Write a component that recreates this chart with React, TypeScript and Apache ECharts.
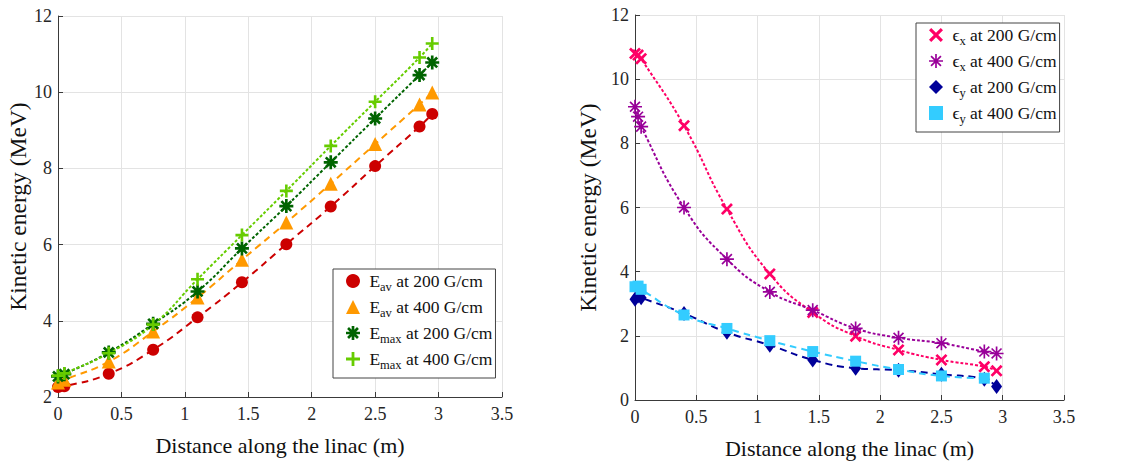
import React, { useEffect, useRef } from 'react';
import * as echarts from 'echarts';

// ---- data ----
const distLeft = [0, 0.05, 0.4, 0.75, 1.1, 1.45, 1.8, 2.15, 2.5, 2.85, 2.95];
const eav200 = [2.26, 2.28, 2.61, 3.24, 4.09, 5.01, 6.01, 7.0, 8.06, 9.1, 9.43];
const eav400 = [2.38, 2.45, 2.93, 3.72, 4.61, 5.6, 6.58, 7.6, 8.64, 9.68, 9.99];
const emax200 = [2.54, 2.6, 3.17, 3.92, 4.77, 5.9, 7.01, 8.16, 9.31, 10.45, 10.78];
const emax400 = [2.56, 2.62, 3.15, 3.9, 5.09, 6.25, 7.41, 8.59, 9.75, 10.91, 11.28];

const distRight = [0, 0.025, 0.05, 0.4, 0.75, 1.1, 1.45, 1.8, 2.15, 2.5, 2.85, 2.95];
const ex200 = [10.8, 10.75, 10.64, 8.55, 5.95, 3.93, 2.73, 1.99, 1.56, 1.25, 1.04, 0.91];
const ex400 = [9.14, 8.83, 8.52, 6.0, 4.39, 3.37, 2.8, 2.23, 1.94, 1.77, 1.51, 1.45];
const ey200 = [3.14, 3.24, 3.19, 2.7, 2.11, 1.71, 1.25, 0.99, 0.93, 0.8, 0.65, 0.42];
const ey400 = [3.53, 3.55, 3.45, 2.65, 2.23, 1.85, 1.51, 1.21, 0.95, 0.75, 0.68, null];

const leftNames = ['Eav200', 'Eav400', 'Emax200', 'Emax400'];
const rightNames = ['Ex200', 'Ex400', 'Ey200', 'Ey400'];
const legendLabels: Record<string, string> = {
  Eav200: '{m| E}{s|av}{m| at 200 G/cm}',
  Eav400: '{m| E}{s|av}{m| at 400 G/cm}',
  Emax200: '{m| E}{s|max}{m| at 200 G/cm}',
  Emax400: '{m| E}{s|max}{m| at 400 G/cm}',
  Ex200: '{m| ϵ}{s|x}{m| at 200 G/cm}',
  Ex400: '{m| ϵ}{s|x}{m| at 400 G/cm}',
  Ey200: '{m| ϵ}{s|y}{m| at 200 G/cm}',
  Ey400: '{m| ϵ}{s|y}{m| at 400 G/cm}',
};

const xTitle = 'Distance along the linac (m)';
const yTitle = 'Kinetic energy (MeV)';

// ---- symbol shapes ----
function spokes(n: number, hw: number): string {
  let d = '';
  for (let i = 0; i < n; i++) {
    const a = (Math.PI * i) / n;
    const c = Math.cos(a), s = Math.sin(a);
    const pts = [[-5, -hw], [5, -hw], [5, hw], [-5, hw]].map(([x, y]) => [
      (5 + x * c - y * s).toFixed(3),
      (5 + x * s + y * c).toFixed(3),
    ]);
    d += `M${pts[0][0]},${pts[0][1]}L${pts[1][0]},${pts[1][1]}L${pts[2][0]},${pts[2][1]}L${pts[3][0]},${pts[3][1]}Z`;
  }
  return 'path://' + d;
}
const PLUS = 'path://M4,0H6V4H10V6H6V10H4V6H0V4H4Z';
const CROSS = 'path://M0,1.6L1.6,0L5,3.4L8.4,0L10,1.6L6.6,5L10,8.4L8.4,10L5,6.6L1.6,10L0,8.4L3.4,5Z';
const STAR_THICK = spokes(4, 0.95);
const STAR_THIN = spokes(4, 0.6);

const FONT = 'Liberation Serif';
const AXIS_COLOR = '#3a3a3a';
const GRID_COLOR = '#e3e3e3';

function zip(xs: number[], ys: (number | null)[]) {
  const out: number[][] = [];
  xs.forEach((x, i) => {
    const y = ys[i];
    if (y !== null && y !== undefined) out.push([x, y]);
  });
  return out;
}

function pair(
  name: string,
  idx: number,
  xs: number[],
  ys: (number | null)[],
  color: string,
  symbol: string,
  size: number | number[],
  dash: number[],
) {
  const data = zip(xs, ys);
  return [
    {
      type: 'line',
      name: name + '_line',
      xAxisIndex: idx,
      yAxisIndex: idx,
      data,
      smooth: 0.5,
      symbol: 'none',
      lineStyle: { color, width: 2, type: dash },
      z: 2,
    },
    {
      type: 'scatter',
      name,
      xAxisIndex: idx,
      yAxisIndex: idx,
      data,
      symbol,
      symbolSize: size,
      itemStyle: { color, opacity: 1 },
      z: 3,
    },
  ];
}

function xAxis(idx: number, gap: number) {
  return {
    type: 'value',
    gridIndex: idx,
    min: 0,
    max: 3.5,
    interval: 0.5,
    name: xTitle,
    nameLocation: 'middle',
    nameGap: gap,
    nameTextStyle: { fontFamily: FONT, fontSize: 22, color: '#111' },
    axisLine: { show: true, onZero: false, lineStyle: { color: AXIS_COLOR, width: 1 } },
    axisTick: { show: true, inside: true, length: 5, lineStyle: { color: AXIS_COLOR } },
    axisLabel: { fontFamily: FONT, fontSize: 18, color: '#262626', margin: 8 },
    splitLine: { show: true, lineStyle: { color: GRID_COLOR, width: 1 } },
  };
}

function yAxis(idx: number, min: number, gap: number) {
  return {
    type: 'value',
    gridIndex: idx,
    min,
    max: 12,
    interval: 2,
    name: yTitle,
    nameLocation: 'middle',
    nameGap: gap,
    nameTextStyle: { fontFamily: FONT, fontSize: 23.5, color: '#111' },
    axisLine: { show: true, onZero: false, lineStyle: { color: AXIS_COLOR, width: 1 } },
    axisTick: { show: true, inside: true, length: 5, lineStyle: { color: AXIS_COLOR } },
    axisLabel: { fontFamily: FONT, fontSize: 18, color: '#262626', margin: 6 },
    splitLine: { show: true, lineStyle: { color: GRID_COLOR, width: 1 } },
  };
}

function legend(names: string[], left: number, top: number) {
  return {
    data: names,
    orient: 'vertical',
    left,
    top,
    itemWidth: 14,
    itemHeight: 14,
    itemGap: 5,
    padding: [3, 3, 7, 13],
    backgroundColor: '#fff',
    borderColor: '#444',
    borderWidth: 1,
    borderRadius: 0,
    selectedMode: false,
    formatter: (n: string) => legendLabels[n],
    textStyle: {
      fontFamily: FONT,
      color: '#111',
      rich: {
        m: { fontFamily: FONT, fontSize: 17.5, color: '#111', lineHeight: 24, verticalAlign: 'middle' },
        s: { fontFamily: FONT, fontSize: 12.5, color: '#111', lineHeight: 8, verticalAlign: 'bottom' },
      },
    },
  };
}

export default function App() {
  const ref = useRef<HTMLDivElement>(null);
  useEffect(() => {
    document.body.style.margin = '0';
    if (!ref.current) return;
    const chart = echarts.init(ref.current, null, { renderer: 'svg' });
    const series = [
      ...pair('Eav200', 0, distLeft, eav200, '#cc0000', 'circle', 12, [7, 5]),
      ...pair('Eav400', 0, distLeft, eav400, '#ff9900', 'triangle', 14, [7, 5]),
      ...pair('Emax200', 0, distLeft, emax200, '#006400', STAR_THICK, 14, [3, 2]),
      ...pair('Emax400', 0, distLeft, emax400, '#66cc00', PLUS, 13, [3, 2]),
      ...pair('Ex200', 1, distRight, ex200, '#ff0066', CROSS, 12, [3, 2]),
      ...pair('Ex400', 1, distRight, ex400, '#990099', STAR_THIN, 14, [3, 2]),
      ...pair('Ey200', 1, distRight, ey200, '#000099', 'diamond', [11, 15], [7, 5]),
      ...pair('Ey400', 1, distRight, ey400, '#33ccff', 'rect', 11, [7, 5]),
    ];
    chart.setOption({
      animation: false,
      backgroundColor: '#fff',
      textStyle: { fontFamily: FONT },
      grid: [
        { left: 58, top: 16, width: 444, height: 381 },
        { left: 635, top: 15, width: 429, height: 385 },
      ],
      xAxis: [xAxis(0, 37), xAxis(1, 37)],
      yAxis: [yAxis(0, 2, 28), yAxis(1, 0, 35)],
      legend: [legend(leftNames, 333, 269), legend(rightNames, 916, 23)],
      series,
    });
    return () => chart.dispose();
  }, []);
  return <div ref={ref} style={{ width: 1126, height: 464 }} />;
}
